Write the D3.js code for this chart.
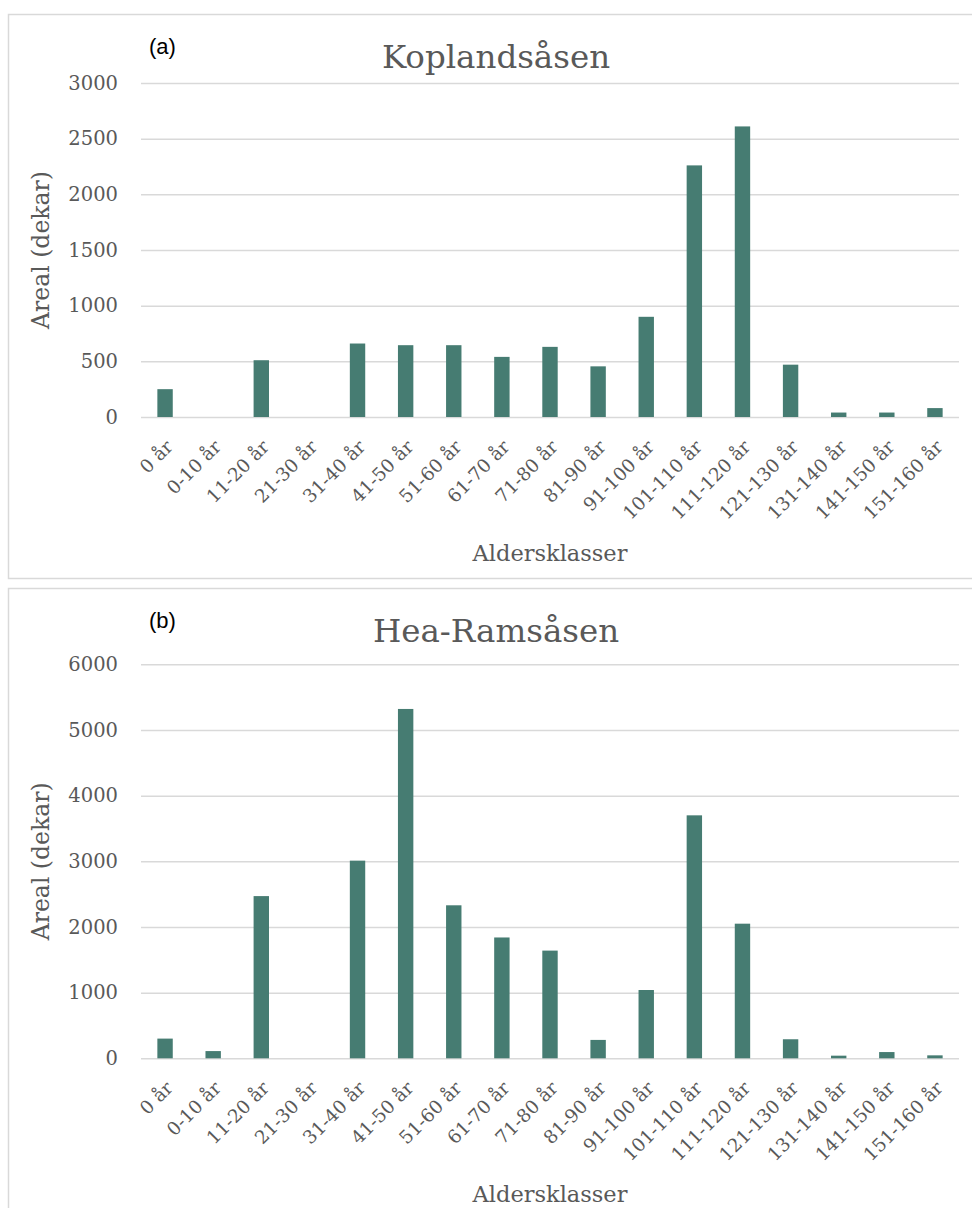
<!DOCTYPE html>
<html>
<head>
<meta charset="utf-8">
<script src="https://cdn.jsdelivr.net/npm/d3@7"></script>
<style>
  body { margin: 0; background: #fff; }
  text { font-family: "DejaVu Serif", serif; }
</style>
</head>
<body>
<div id="chart"></div>
<script>
// age classes shared by both panels
const ageClasses = ["0 år", "0-10 år", "11-20 år", "21-30 år", "31-40 år", "41-50 år", "51-60 år",
  "61-70 år", "71-80 år", "81-90 år", "91-100 år", "101-110 år", "111-120 år", "121-130 år",
  "131-140 år", "141-150 år", "151-160 år"];

const koplandsasen = [250, 0, 510, 0, 660, 645, 645, 540, 630, 455, 900, 2260, 2610, 470, 40, 40, 80];
const heaRamsasen = [300, 110, 2470, 0, 3010, 5320, 2330, 1840, 1640, 280, 1040, 3700, 2050, 290, 40, 95, 45];

const ticksA = [0, 500, 1000, 1500, 2000, 2500, 3000];
const ticksB = [0, 1000, 2000, 3000, 4000, 5000, 6000];

const W = 972, H = 1208;
const barColor = "#467c72";
const grey = "#595959";

const svg = d3.select("#chart").append("svg")
  .attr("width", W)
  .attr("height", H);

function drawPanel(top, boxH, letter, title, values, ticks, yTop, yBottom) {
  const g = svg.append("g").attr("transform", `translate(0,${top})`);

  // panel border
  g.append("rect")
    .attr("x", 8.5).attr("y", 0.5)
    .attr("width", W + 10).attr("height", boxH)
    .attr("fill", "none")
    .attr("stroke", "#d9d9d9")
    .attr("stroke-width", 1.5);

  const x = d3.scaleBand()
    .domain(ageClasses)
    .range([141, 959])
    .paddingInner(0.68)
    .paddingOuter(0.34);

  const y = d3.scaleLinear()
    .domain([0, d3.max(ticks)])
    .range([yBottom - top, yTop - top]);

  // gridlines + y labels
  const yAxis = g.append("g")
    .attr("transform", "translate(141,0)")
    .call(d3.axisLeft(y).tickValues(ticks).tickSize(-818).tickFormat(d3.format("d")).tickPadding(23));
  yAxis.select(".domain").remove();
  yAxis.selectAll("line").attr("stroke", "#d9d9d9").attr("stroke-width", 1.5);
  yAxis.selectAll("text")
    .attr("fill", grey)
    .style("font-size", "19.5px");

  // bars
  g.selectAll(".bar")
    .data(values)
    .enter().append("rect")
    .attr("class", "bar")
    .attr("x", (d, i) => x(ageClasses[i]))
    .attr("width", x.bandwidth())
    .attr("y", d => y(d))
    .attr("height", d => y(0) - y(d))
    .attr("fill", barColor);

  // x labels
  const xAxis = g.append("g")
    .attr("transform", `translate(0,${y(0)})`)
    .call(d3.axisBottom(x).tickSize(0).tickPadding(0));
  xAxis.select(".domain").remove();
  xAxis.selectAll("text")
    .attr("fill", grey)
    .style("font-size", "18.5px")
    .attr("text-anchor", "end")
    .attr("dy", 0)
    .attr("transform", "translate(9,31) rotate(-45)");

  // title
  g.append("text")
    .attr("x", 496).attr("y", 54)
    .attr("text-anchor", "middle")
    .attr("fill", grey)
    .style("font-size", "32.5px")
    .text(title);

  // panel letter
  g.append("text")
    .attr("x", 149).attr("y", 40)
    .attr("fill", "#000")
    .style("font-family", "'Liberation Sans', sans-serif")
    .style("font-size", "22px")
    .text(letter);

  // axis titles
  g.append("text")
    .attr("transform", `translate(49,${(y(0) + y(d3.max(ticks))) / 2}) rotate(-90)`)
    .attr("text-anchor", "middle")
    .attr("fill", grey)
    .style("font-size", "23.5px")
    .text("Areal (dekar)");

  g.append("text")
    .attr("x", 550).attr("y", y(0) + 144)
    .attr("text-anchor", "middle")
    .attr("fill", grey)
    .style("font-size", "22.5px")
    .text("Aldersklasser");
}

drawPanel(14, 564, "(a)", "Koplandsåsen", koplandsasen, ticksA, 83, 417);
drawPanel(588, 640, "(b)", "Hea-Ramsåsen", heaRamsasen, ticksB, 664.3, 1058.3);
</script>
</body>
</html>
